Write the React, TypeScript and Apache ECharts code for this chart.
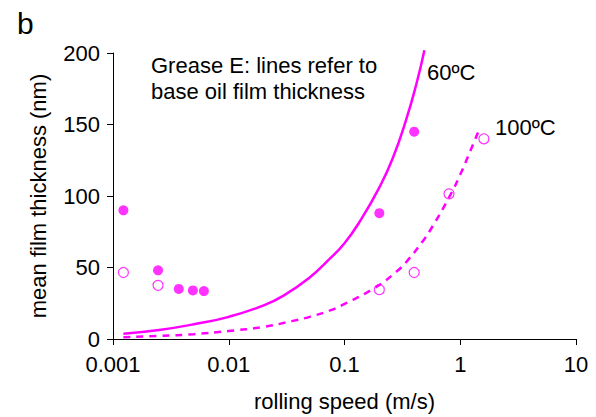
import React, { useEffect, useRef } from "react";
import * as echarts from "echarts";

// Base oil film thickness lines
const line60X = [0.00123, 0.0025, 0.005, 0.01, 0.02, 0.03, 0.05, 0.07, 0.1, 0.14, 0.2, 0.26, 0.34, 0.42, 0.49];
const line60Y = [3.7, 6.3, 10.3, 15.5, 23.5, 30.5, 43, 54, 67, 84, 106, 126, 153, 179, 202];
const line100X = [0.00123, 0.0025, 0.005, 0.01, 0.02, 0.035, 0.05, 0.075, 0.1, 0.18, 0.28, 0.36, 0.47, 0.54, 0.8, 1.0, 1.2, 1.45];
const line100Y = [1.2, 2.2, 3.4, 5.6, 8.5, 12.5, 15.5, 20, 24.5, 35.5, 47, 56, 68, 75, 99, 115, 130, 146];

// Measured grease film thickness
const pts60X = [0.00123, 0.00245, 0.0037, 0.0049, 0.0061, 0.2, 0.4];
const pts60Y = [90, 48, 35, 34, 33.5, 88, 145];
const pts100X = [0.00123, 0.00245, 0.2, 0.4, 0.8, 1.6];
const pts100Y = [46.5, 37.5, 34.5, 46.5, 101.5, 140];

const xTicks = [0.001, 0.01, 0.1, 1, 10];
const yTicks = [0, 50, 100, 150, 200];

const zip = (xs: number[], ys: number[]) => xs.map((x, i) => [x, ys[i]]);

const MAG = "#ff00ff";
const FONT = "Liberation Sans";

export default function App() {
  const ref = useRef<HTMLDivElement>(null);
  useEffect(() => {
    document.body.style.margin = "0";
    const chart = echarts.init(ref.current!, undefined, { renderer: "svg" });
    chart.setOption({
      animation: false,
      backgroundColor: "#ffffff",
      textStyle: { fontFamily: FONT },
      grid: { left: 113, right: 20, top: 53, bottom: 76 },
      xAxis: {
        type: "log",
        logBase: 10,
        min: xTicks[0],
        max: xTicks[xTicks.length - 1],
        name: "rolling speed (m/s)",
        nameLocation: "middle",
        nameGap: 51,
        nameTextStyle: { fontSize: 22, color: "#000", fontFamily: FONT },
        axisLine: { show: true, lineStyle: { color: "#000", width: 1 } },
        axisTick: { show: true, inside: false, length: 6, lineStyle: { color: "#000" } },
        minorTick: { show: false },
        splitLine: { show: false },
        axisLabel: {
          fontSize: 22,
          color: "#000",
          margin: 14,
          fontFamily: FONT,
          formatter: (v: number) => {
            const m = xTicks.find((t) => Math.abs(Math.log10(t) - Math.log10(v)) < 1e-6);
            return m !== undefined ? String(m) : "";
          },
        },
      },
      yAxis: {
        type: "value",
        min: yTicks[0],
        max: yTicks[yTicks.length - 1],
        interval: 50,
        name: "mean film thickness (nm)",
        nameLocation: "middle",
        nameRotate: 90,
        nameGap: 64,
        nameTextStyle: { fontSize: 22, color: "#000", fontFamily: FONT },
        axisLine: { show: true, lineStyle: { color: "#000", width: 1 } },
        axisTick: { show: true, inside: false, length: 6, lineStyle: { color: "#000" } },
        splitLine: { show: false },
        axisLabel: { fontSize: 22, color: "#000", margin: 13, fontFamily: FONT },
      },
      series: [
        {
          type: "line",
          name: "60 line",
          data: zip(line60X, line60Y),
          smooth: true,
          showSymbol: false,
          clip: false,
          lineStyle: { color: MAG, width: 2.5 },
        },
        {
          type: "line",
          name: "100 line",
          data: zip(line100X, line100Y),
          smooth: true,
          showSymbol: false,
          lineStyle: { color: MAG, width: 2.5, type: [7, 6] },
        },
        {
          type: "scatter",
          name: "60 pts",
          data: zip(pts60X, pts60Y),
          symbol: "circle",
          symbolSize: 10,
          itemStyle: { color: MAG },
        },
        {
          type: "scatter",
          name: "100 pts",
          data: zip(pts100X, pts100Y),
          symbol: "circle",
          symbolSize: 10,
          itemStyle: { color: "#ffffff", borderColor: MAG, borderWidth: 1.2 },
        },
      ],
      graphic: [
        {
          type: "text",
          left: 17,
          top: 8,
          style: { text: "b", fontSize: 30, fill: "#000", fontFamily: FONT },
        },
        {
          type: "text",
          left: 151,
          top: 52,
          style: {
            text: "Grease E: lines refer to\nbase oil film thickness",
            fontSize: 22,
            lineHeight: 26,
            fill: "#000",
            fontFamily: FONT,
          },
        },
        {
          type: "text",
          left: 427,
          top: 61,
          style: { text: "60ºC", fontSize: 22, fill: "#000", fontFamily: FONT },
        },
        {
          type: "text",
          left: 495,
          top: 116,
          style: { text: "100ºC", fontSize: 22, fill: "#000", fontFamily: FONT },
        },
      ],
    });
    return () => chart.dispose();
  }, []);
  return <div ref={ref} style={{ width: 596, height: 417 }} />;
}
